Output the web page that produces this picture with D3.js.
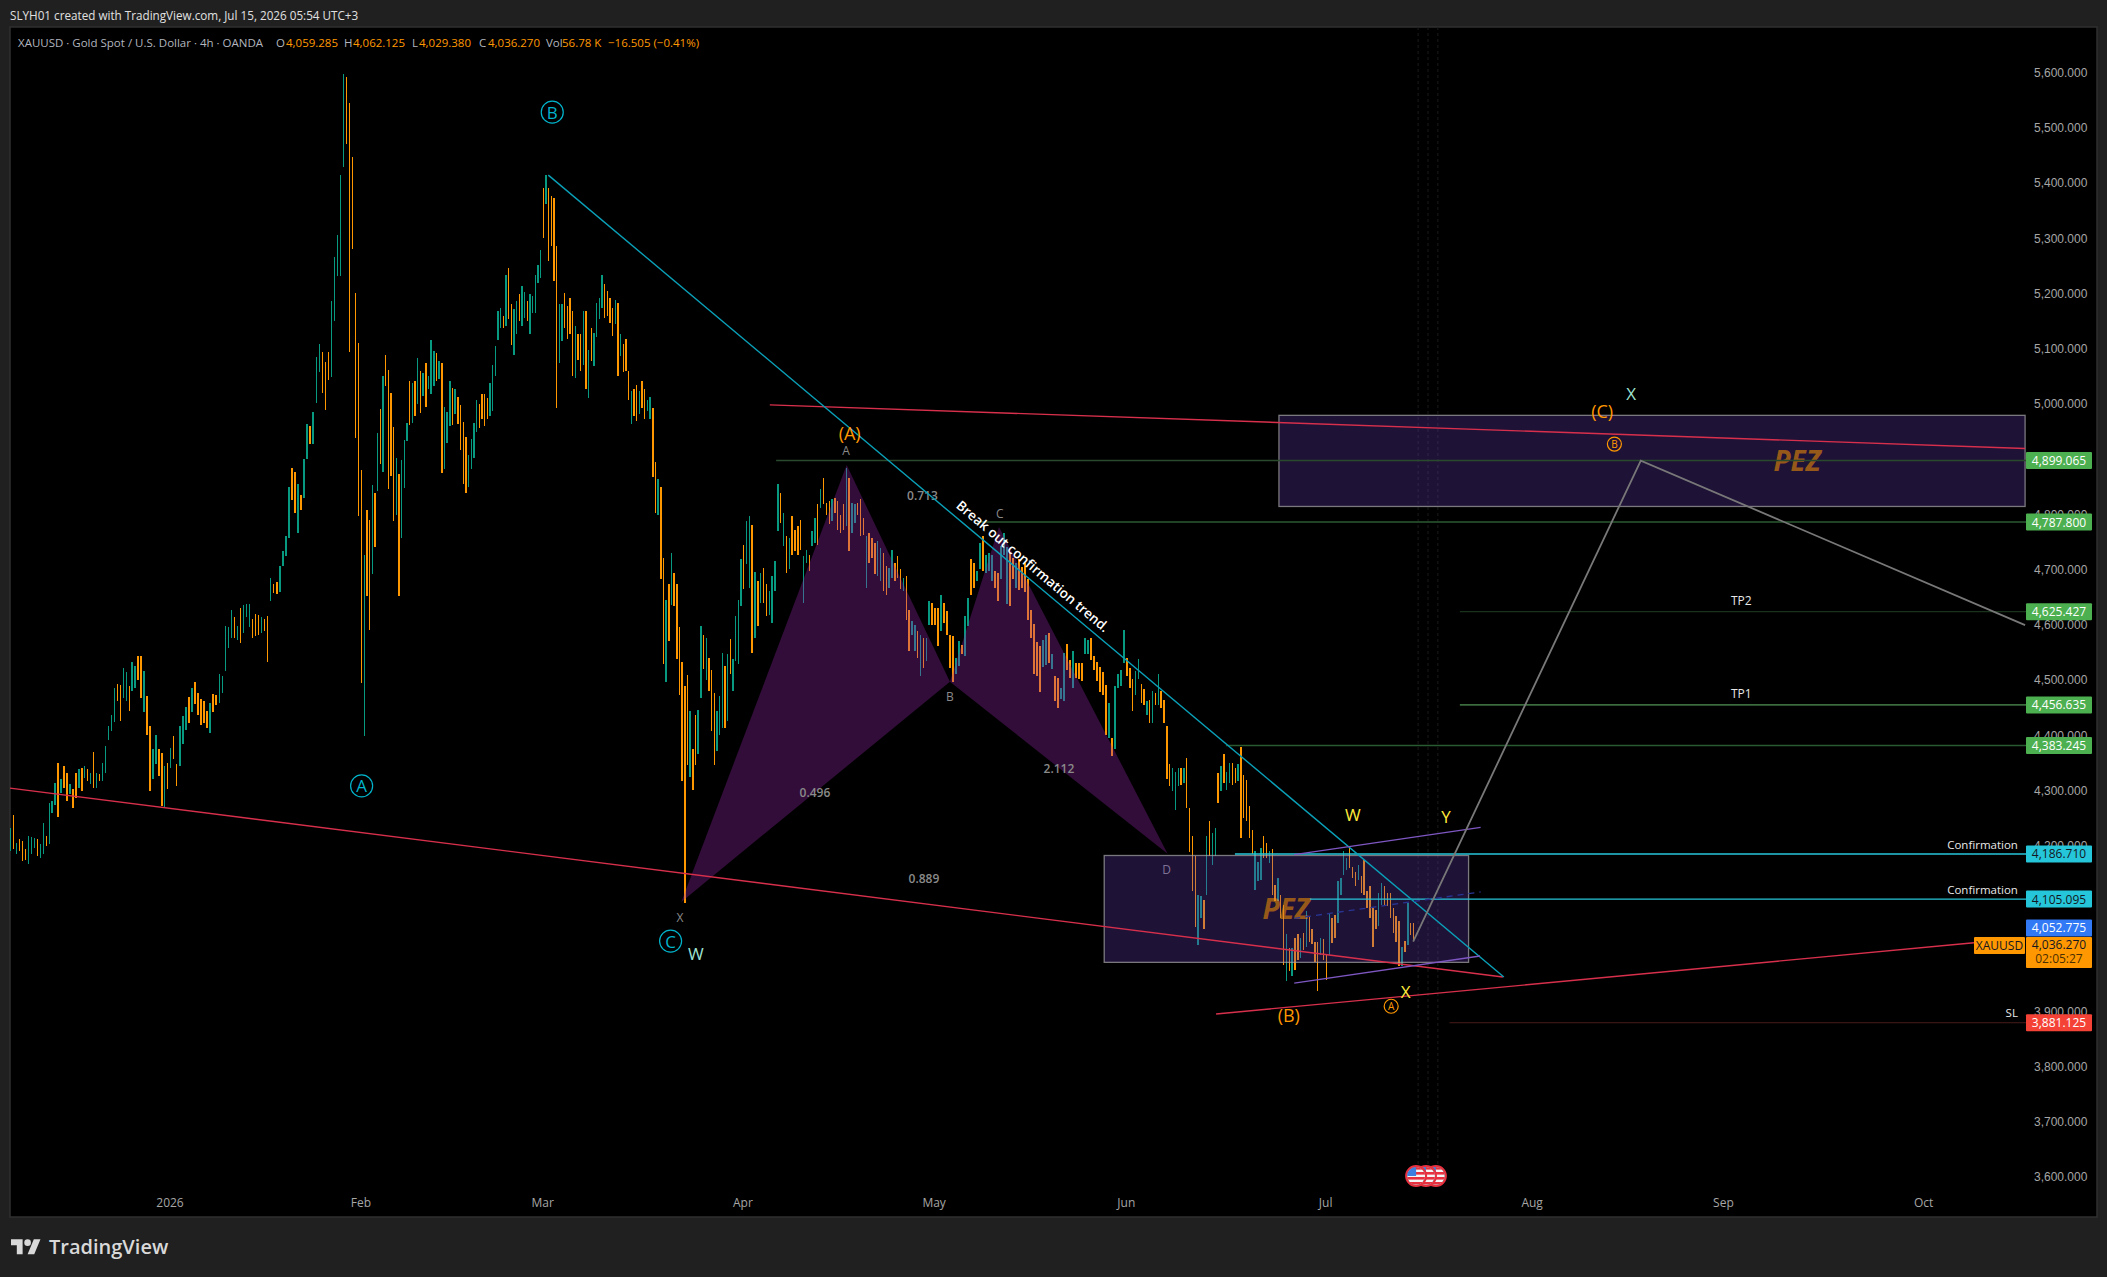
<!DOCTYPE html>
<html>
<head>
<meta charset="utf-8">
<script src="https://cdn.jsdelivr.net/npm/d3@7"></script>
<style>
  html, body { margin: 0; padding: 0; background: #202020; }
  svg { display: block; font-family: "Open Sans", "Noto Sans", sans-serif; }
</style>
</head>
<body>
<svg id="chart" width="2107" height="1277"></svg>
<script>
//
// DATA
//
// bars per month, each row is [high, low, up(1) or down(0)]
const barsDec = [[4234,4192,1],[4257,4195,0],[4207,4186,1],[4213,4192,0],[4210,4174,0],[4195,4175,0],[4219,4168,1],[4217,4186,1],[4215,4198,1],[4213,4183,0],[4204,4180,1],[4243,4186,1],[4219,4201,0],[4279,4204,1],[4282,4261,1],[4316,4276,1],[4351,4253,0],[4322,4298,1],[4346,4307,0],[4333,4282,0],[4314,4295,1],[4304,4270,0],[4333,4288,0],[4340,4307,1],[4342,4301,0],[4346,4325,1],[4340,4319,0],[4334,4314,1],[4371,4307,0],[4334,4307,1],[4332,4318,0],[4352,4318,1],[4382,4334,1],[4418,4394,1],[4439,4409,1],[4488,4426,1],[4494,4464,0],[4493,4427,0],[4523,4470,1],[4516,4464,1],[4491,4446,0],[4535,4482,1],[4527,4488,1],[4546,4501,0],[4545,4470,0],[4518,4443,1],[4473,4403,0],[4418,4301,0],[4376,4322,1],[4402,4349,1],[4376,4328,0],[4370,4273,0],[4346,4272,1],[4352,4304,0]]
const barsJan = [[4379,4343,1],[4400,4358,0],[4349,4310,0],[4418,4346,1],[4436,4385,1],[4452,4412,1],[4471,4424,0],[4488,4443,1],[4499,4458,0],[4479,4439,0],[4467,4421,0],[4464,4424,0],[4446,4414,0],[4461,4406,1],[4477,4443,0],[4475,4456,0],[4512,4461,1],[4509,4479,1],[4600,4518,1],[4597,4560,1],[4628,4578,1],[4616,4578,0],[4600,4575,1],[4632,4568,0],[4638,4587,1],[4639,4616,1],[4640,4597,1],[4612,4578,0],[4622,4581,0],[4619,4584,0],[4616,4587,1],[4612,4590,0],[4618,4535,0],[4686,4645,1],[4675,4660,0],[4680,4657,0],[4708,4661,1],[4735,4708,1],[4763,4726,1],[4851,4759,1],[4885,4828,0],[4879,4805,0],[4856,4768,1],[4837,4809,0],[4902,4832,1],[4966,4902,1],[4962,4929,0],[4987,4929,1],[5087,5003,1],[5110,5059,1],[5096,5022,0],[5077,4990,0],[5096,5045,0],[5188,5050,1],[5267,5151,1],[5308,5234,1],[5417,5233,1],[5600,5431,1],[5594,5472,0],[5547,5096,0],[5449,5282,0],[5203,4940,0],[5112,4798,0]]
const barsFeb = [[4882,4496,0],[4729,4400,1],[4809,4653,0],[4792,4593,0],[4855,4693,1],[4841,4742,0],[4949,4844,1],[4993,4892,0],[5052,4879,1],[5090,5034,0],[5063,4847,0],[5022,4871,0],[4960,4789,0],[4903,4801,1],[4874,4653,0],[4901,4759,1],[4936,4850,1],[4967,4934,1],[5044,4964,0],[5040,4967,1],[5043,4980,0],[5085,5001,1],[5061,4986,0],[5058,5016,1],[5075,4996,0],[5052,5028,1],[5117,5019,1],[5097,5034,1],[5094,5043,0],[5079,5046,1],[5076,4877,0],[4996,4883,1],[4987,4931,1],[5044,4961,1],[5030,4963,0],[5028,4983,1],[5014,4965,0],[5000,4919,0],[4969,4857,0],[4941,4841,0],[4909,4851,1],[4939,4883,1],[4967,4904,1],[5009,4951,1],[5002,4958,0],[5019,4974,0],[5019,4961,0],[5012,4974,0],[5040,4980,1],[5073,4989,1],[5106,5052,1],[5170,5117,1],[5175,5140,1],[5161,5140,0],[5235,5143,1],[5247,5155,0],[5182,5109,0],[5173,5091,1],[5188,5128,1],[5200,5152,0],[5215,5143,1],[5205,5158,1],[5188,5152,0],[5200,5128,1],[5197,5167,1],[5236,5167,1],[5254,5221,1],[5280,5230,1]]
const barsMar = [[5393,5303,0],[5417,5363,1],[5393,5261,0],[5378,5288,0],[5375,5224,0],[5288,4995,0],[5182,5076,1],[5183,5116,1],[5203,5140,0],[5179,5119,0],[5193,5128,0],[5170,5052,0],[5143,5049,1],[5128,5082,0],[5128,5061,0],[5170,5073,1],[5170,5028,0],[5100,5013,1],[5140,5079,0],[5131,5070,1],[5185,5122,1],[5194,5155,1],[5236,5176,1],[5219,5158,0],[5207,5161,0],[5194,5149,0],[5175,5125,0],[5189,5146,1],[5185,5052,0],[5128,5088,1],[5110,5060,0],[5119,5061,0],[5061,5008,0],[5025,4966,1],[5028,4980,0],[5036,4971,0],[5025,4983,1],[5043,4995,0],[5028,4974,0],[5008,4989,1],[5014,4974,1],[4995,4869,0],[4896,4804,0],[4865,4801,1],[4851,4684,0],[4723,4530,0],[4646,4499,1],[4675,4572,0],[4732,4638,1],[4696,4635,0],[4675,4539,0],[4597,4475,0],[4534,4318,0],[4490,4098,0],[4510,4348,0],[4445,4327,1],[4376,4303,0],[4439,4348,0],[4448,4367,1],[4599,4469,1],[4583,4521,0],[4578,4502,1],[4542,4481,0],[4519,4409,0],[4478,4348,0],[4445,4373,1],[4472,4403,1],[4551,4415,1],[4527,4415,0],[4548,4427,1],[4576,4512,0],[4539,4481,1],[4617,4536,1],[4647,4530,1],[4720,4635,1]]
const barsApr = [[4746,4666,0],[4789,4711,1],[4798,4669,1],[4783,4551,0],[4697,4578,1],[4681,4599,0],[4696,4641,1],[4704,4641,0],[4675,4617,0],[4663,4620,1],[4690,4605,1],[4717,4663,1],[4856,4771,1],[4841,4786,0],[4804,4744,1],[4762,4696,0],[4759,4702,1],[4798,4729,0],[4774,4735,0],[4780,4729,0],[4792,4738,0],[4726,4641,1],[4738,4714,1],[4729,4699,0],[4771,4744,1],[4795,4750,1],[4820,4747,0],[4847,4814,1],[4868,4820,0],[4823,4801,0],[4826,4785,0],[4829,4789,1],[4832,4804,0],[4826,4774,0],[4801,4768,0],[4820,4774,0],[4885,4780,1],[4868,4735,0],[4823,4768,1],[4820,4786,1],[4823,4801,0],[4829,4762,0],[4795,4765,0],[4762,4669,1],[4768,4714,0],[4759,4723,0],[4750,4693,0],[4753,4690,1],[4741,4681,1],[4732,4663,0],[4708,4656,0],[4705,4669,1],[4738,4687,1],[4714,4681,0],[4726,4687,0],[4702,4666,0],[4687,4663,1],[4690,4611,0],[4629,4554,0],[4608,4584,1],[4602,4554,1],[4590,4542,0],[4584,4509,1],[4578,4524,0],[4578,4536,1],[4644,4602,1],[4641,4602,0]]
const barsMay = [[4632,4602,0],[4632,4563,0],[4656,4590,1],[4641,4605,0],[4626,4584,0],[4584,4524,0],[4581,4499,0],[4542,4512,1],[4572,4527,1],[4566,4548,0],[4617,4545,1],[4650,4599,1],[4720,4656,0],[4714,4669,0],[4699,4681,1],[4750,4702,1],[4762,4699,0],[4729,4696,1],[4732,4699,1],[4729,4681,1],[4699,4669,0],[4696,4644,0],[4744,4684,1],[4768,4729,1],[4742,4639,1],[4732,4635,0],[4723,4684,0],[4713,4668,1],[4720,4665,0],[4707,4668,0],[4713,4661,0],[4684,4610,0],[4629,4577,0],[4603,4512,0],[4571,4509,0],[4564,4480,0],[4574,4525,1],[4584,4529,1],[4587,4532,0],[4548,4522,1],[4509,4464,0],[4506,4451,0],[4487,4467,1],[4550,4464,1],[4567,4519,0],[4538,4506,0],[4554,4487,1],[4532,4506,0],[4532,4503,0],[4532,4500,0],[4577,4548,1],[4574,4548,1],[4577,4538,0],[4545,4519,0],[4535,4500,0],[4525,4480,0],[4516,4474,0],[4493,4402,0],[4461,4396,1],[4396,4364,0],[4490,4377,1],[4512,4487,1],[4519,4490,1],[4593,4532,1]]
const barsJun = [[4542,4509,0],[4524,4488,0],[4503,4445,0],[4518,4475,1],[4539,4503,1],[4494,4460,0],[4485,4457,0],[4463,4439,1],[4466,4424,0],[4482,4424,1],[4478,4457,0],[4512,4457,1],[4482,4451,0],[4466,4424,0],[4418,4322,0],[4349,4309,0],[4343,4300,1],[4336,4267,1],[4343,4309,1],[4343,4312,0],[4343,4315,1],[4361,4270,0],[4270,4190,0],[4219,4120,0],[4183,4055,0],[4113,4022,1],[4110,4071,1],[4104,4050,0],[4219,4113,1],[4246,4183,0],[4225,4167,1],[4234,4183,1],[4334,4279,0],[4346,4300,1],[4367,4315,0],[4336,4303,1],[4352,4315,1],[4352,4312,0],[4343,4315,0],[4349,4318,1],[4380,4216,0],[4330,4252,0],[4321,4246,0],[4273,4216,0],[4231,4186,0],[4192,4122,1],[4173,4137,1],[4197,4140,1],[4219,4180,0],[4207,4180,0],[4192,4170,1],[4195,4113,0],[4131,4101,0],[4143,4101,1],[4113,4071,0],[4095,3986,0],[4041,3956,1],[4016,3974,0],[4016,3965,1],[4035,3977,0],[4041,3995,0],[4035,3998,1],[4044,4013,0],[4083,4019,1],[4074,4028,0],[4050,4023,0],[4028,3992,0],[4028,3938,0],[4035,4004,1],[4032,3995,0]]
const barsJul = [[4004,3959,0],[4080,4004,1],[4071,4026,0],[4077,4035,0],[4137,4062,1],[4143,4113,1],[4192,4149,1],[4179,4158,1],[4198,4161,0],[4164,4143,0],[4155,4128,0],[4167,4140,1],[4146,4116,0],[4176,4113,0],[4119,4089,0],[4128,4071,0],[4089,4019,0],[4086,4050,0],[4116,4056,1],[4134,4095,1],[4128,4092,0],[4116,4092,0],[4116,4071,0],[4089,4044,0],[4074,4028,0],[4065,3983,0],[4019,3983,1],[4030,4010,0],[4098,4022,1],[4062,4040,0],[4062.125,4029.38,0]]

// x values are trading sessions counted from Jan 1
const barMonths = [barsDec, barsJan, barsFeb, barsMar, barsApr, barsMay, barsJun, barsJul]
const monthEdges = [-17.82, 0, 21.27, 41.5, 63.8, 85.1, 106.5, 128.7, 138.75]

const timeTickLabels = ['2026', 'Feb', 'Mar', 'Apr', 'May', 'Jun', 'Jul', 'Aug', 'Sep', 'Oct']
const timeTickSessions = [0, 21.27, 41.5, 63.8, 85.1, 106.5, 128.7, 151.7, 173, 195.3]
const priceTicks = [3600, 3700, 3800, 3900, 4000, 4100, 4200, 4300, 4400, 4500, 4600, 4700, 4800, 4900, 5000, 5100, 5200, 5300, 5400, 5500, 5600]

// horizontal levels
const greenLevels = [4899.065, 4787.8, 4625.427, 4456.635, 4383.245]
const greenLevelStarts = [67.5, 89.87, 143.65, 143.65, 117.6]
const cyanLevels = [4186.71, 4105.095]
const cyanLevelStarts = [118.6, 126.95]
const stopLevel = 3881.125
const stopLevelStart = 142.5
const paneEnd = 206.7

// trend lines as [session, price] pairs
const fallingTrend = [[42.13, 5416], [148.55, 3964]]
const lowerRedTrend = [[-17.82, 4306], [148.44, 3964]]
const upperRedTrend = [[66.8, 5000], [206.6, 4921]]
const risingRedTrend = [[116.5, 3897], [200.9, 4026]]
const channelTop = [[125.2, 4185.4], [145.96, 4235]]
const channelBottom = [[125.2, 3953], [145.9, 4002]]
const channelMiddle = [[125.2, 4070], [145.96, 4118]]
const projection = [[138.45, 4028], [163.8, 4899.065], [206.6, 4601]]

// harmonic pattern points
const patternLabels = ['X', 'A', 'B', 'C', 'D']
const patternPoints = [[56.94, 4100], [75.36, 4891], [86.86, 4498.5], [92.32, 4779], [111.1, 4187]]
const patternTextSpots = [[56.8, 4072], [75.3, 4917], [86.86, 4471], [92.4, 4804], [111, 4159.5]]
const ratioLabels = ['0.713', '0.496', '2.112', '0.889']
const ratioSpots = [[83.8, 4835], [71.83, 4298], [99, 4341], [83.96, 4142]]

// price zones [session from, session to, price top, price bottom]
const lowerZone = [104.04, 144.62, 4184, 3990.5]
const upperZone = [123.5, 206.6, 4981, 4816]
const zoneTextSpots = [[124.3, 4089], [181.2, 4900]]

// wave labels
const cyanCircled = [['B', 42.57, 5530], ['A', 21.34, 4310], ['C', 55.75, 4029]]
const orangeWaves = [['(A)', 75.69, 4949], ['(B)', 124.6, 3895], ['(C)', 159.5, 4989]]
const orangeCircled = [['A', 136, 3911], ['B', 160.86, 4929]]
const yellowWaves = [['X', 137.6, 3938], ['W', 131.74, 4259], ['Y', 142.1, 4255]]
const aquaWaves = [['W', 58.57, 4007], ['X', 162.74, 5021]]
const levelNotes = [['TP2', 175, 4645], ['TP1', 175, 4478]]
const confirmNotes = [['Confirmation', 205.8, 4203], ['Confirmation', 205.8, 4122], ['SL', 205.8, 3900]]
const eventSessions = [141.2, 140.1, 139]

const legendValues = ['4,059.285', '4,062.125', '4,029.380', '4,036.270', '56.78 K', '−16.505 (−0.41%)']
const askPrice = 4052.775
const lastPrice = 4036.27

//
// SCALES
//
const pane = { left: 10, right: 2097, top: 27, bottom: 1217, axis: 2026 }
const x = d3.scaleLinear().domain([-17.82, paneEnd]).range([pane.left, pane.axis])
const y = d3.scaleLinear().domain([3600, 5600]).range([1178, 73.5])
const lineGen = d3.line().x((d) => x(d[0])).y((d) => y(d[1]))

const svg = d3.select('#chart')
const upColor = '#089981'
const downColor = '#ff9800'

// chart pane
svg.append('rect')
    .attr('x', pane.left).attr('y', pane.top)
    .attr('width', pane.right - pane.left).attr('height', pane.bottom - pane.top)
    .attr('fill', '#000').attr('stroke', '#2f2f2f').attr('stroke-width', 1.5)

svg.append('clipPath').attr('id', 'pane-clip').append('rect')
    .attr('x', pane.left).attr('y', pane.top)
    .attr('width', pane.axis - pane.left + 2).attr('height', pane.bottom - pane.top)

const plot = svg.append('g').attr('clip-path', 'url(#pane-clip)')

/************
 *          *
 *   BARS   *
 *          *
 ************/
const drawBars = () => {
    // faint event lines sit behind everything
    plot.selectAll('line.event').data(eventSessions).join('line')
        .attr('class', 'event')
        .attr('x1', (d) => x(d)).attr('x2', (d) => x(d))
        .attr('y1', pane.top).attr('y2', 1165)
        .attr('stroke', '#1b1b1b').attr('stroke-dasharray', '3 3')

    barMonths.forEach((rows, m) => {
        const slot = d3.scaleLinear().domain([0, rows.length]).range([monthEdges[m], monthEdges[m + 1]])
        plot.append('g').attr('shape-rendering', 'crispEdges')
            .selectAll('rect').data(rows).join('rect')
            .attr('x', (d, i) => x(slot(i)))
            .attr('width', 1.4)
            .attr('y', (d) => y(d[0]))
            .attr('height', (d) => y(d[1]) - y(d[0]))
            .attr('fill', (d) => d[2] ? upColor : downColor)
    })
}

/*******************
 *                 *
 *   ANNOTATIONS   *
 *                 *
 *******************/
const drawPattern = () => {
    const [X, A, B, C, D] = patternPoints
    plot.selectAll('path.wing').data([[X, A, B], [B, C, D]]).join('path')
        .attr('class', 'wing')
        .attr('d', (d) => lineGen(d) + 'Z')
        .attr('fill', '#9c27b0').attr('fill-opacity', 0.32)
    plot.selectAll('text.pattern').data(patternLabels).join('text')
        .attr('class', 'pattern')
        .attr('x', (d, i) => x(patternTextSpots[i][0]))
        .attr('y', (d, i) => y(patternTextSpots[i][1]))
        .attr('text-anchor', 'middle').attr('dominant-baseline', 'central')
        .attr('font-size', 12).attr('fill', '#8a8a8a')
        .text((d) => d)
    plot.selectAll('text.ratio').data(ratioLabels).join('text')
        .attr('class', 'ratio')
        .attr('x', (d, i) => x(ratioSpots[i][0]))
        .attr('y', (d, i) => y(ratioSpots[i][1]))
        .attr('text-anchor', 'middle').attr('dominant-baseline', 'central')
        .attr('font-size', 12).attr('font-weight', 600).attr('fill', '#8a8a8a')
        .text((d) => d)
}

const drawZones = () => {
    plot.selectAll('rect.zone').data([lowerZone, upperZone]).join('rect')
        .attr('class', 'zone')
        .attr('x', (d) => x(d[0])).attr('width', (d) => x(d[1]) - x(d[0]))
        .attr('y', (d) => y(d[2])).attr('height', (d) => y(d[3]) - y(d[2]))
        .attr('fill', '#673ab7').attr('fill-opacity', 0.3)
        .attr('stroke', '#a8a8a8').attr('stroke-opacity', 0.7).attr('stroke-width', 1.3)
    plot.selectAll('text.pez').data(zoneTextSpots).join('text')
        .attr('class', 'pez')
        .attr('x', (d) => x(d[0])).attr('y', (d) => y(d[1]))
        .attr('text-anchor', 'middle').attr('dominant-baseline', 'central')
        .attr('font-size', 28).attr('font-weight', 700).attr('font-style', 'italic')
        .attr('fill', '#ff9800').attr('fill-opacity', 0.55)
        .text('PEZ')
}

const drawLevels = () => {
    const colors = ['#2a4a2d', '#2a5a30', '#1f3f24', '#66bb6a', '#2a5a30']
    const hline = (price, start, color, width) => plot.append('line')
        .attr('x1', x(start)).attr('x2', x(paneEnd))
        .attr('y1', y(price)).attr('y2', y(price))
        .attr('stroke', color).attr('stroke-width', width)
    greenLevels.forEach((p, i) => hline(p, greenLevelStarts[i], colors[i], i === 2 || i === 3 ? 1 : 1.5))
    cyanLevels.forEach((p, i) => hline(p, cyanLevelStarts[i], '#26c6da', 1.3))
    hline(stopLevel, stopLevelStart, '#4a1c1c', 1)
}

const drawTrends = () => {
    const trend = (pts, color, width, dash) => plot.append('path')
        .attr('d', lineGen(pts)).attr('fill', 'none')
        .attr('stroke', color).attr('stroke-width', width)
        .attr('stroke-dasharray', dash || null)
    trend(lowerRedTrend, '#d8304c', 1.4)
    trend(upperRedTrend, '#d8304c', 1.4)
    trend(risingRedTrend, '#d8304c', 1.4)
    trend(fallingTrend, '#0aa0b8', 1.4)
    trend(channelTop, '#7e57c2', 1.3)
    trend(channelBottom, '#7e57c2', 1.3)
    trend(channelMiddle, '#283593', 1.3, '6 5')
    trend(projection, '#787878', 1.8)
}

const drawWaves = () => {
    const waveText = (rows, color, size) => plot.append('g').selectAll('text').data(rows).join('text')
        .attr('x', (d) => x(d[1])).attr('y', (d) => y(d[2]))
        .attr('text-anchor', 'middle').attr('dominant-baseline', 'central')
        .attr('font-size', size).attr('font-weight', 500).attr('fill', color)
        .text((d) => d[0])
    const circled = (rows, color, r, size) => {
        plot.append('g').selectAll('circle').data(rows).join('circle')
            .attr('cx', (d) => x(d[1])).attr('cy', (d) => y(d[2])).attr('r', r)
            .attr('fill', 'none').attr('stroke', color).attr('stroke-width', 1.2)
        waveText(rows, color, size)
    }
    circled(cyanCircled, '#00b4cc', 11, 17)
    circled(orangeCircled, '#ff9800', 7, 10)
    waveText(orangeWaves, '#ff9800', 18)
    waveText(yellowWaves, '#ffeb3b', 17)
    waveText(aquaWaves, '#9fe3d3', 17)

    // note above the falling trend, rotated along it
    plot.append('text')
        .attr('transform', `translate(${x(96.1)},${y(4708)}) rotate(40.2)`)
        .attr('text-anchor', 'middle').attr('dominant-baseline', 'central')
        .attr('font-size', 13.5).attr('font-weight', 600).attr('fill', '#fff')
        .text('Break out confirmation trend.')

    plot.append('g').selectAll('text').data(levelNotes).join('text')
        .attr('x', (d) => x(d[1])).attr('y', (d) => y(d[2]))
        .attr('text-anchor', 'middle').attr('dominant-baseline', 'central')
        .attr('font-size', 12).attr('font-weight', 500).attr('fill', '#e8e8e8')
        .text((d) => d[0])
    plot.append('g').selectAll('text').data(confirmNotes).join('text')
        .attr('x', (d) => x(d[1])).attr('y', (d) => y(d[2]))
        .attr('text-anchor', 'end').attr('dominant-baseline', 'central')
        .attr('font-size', 11.5).attr('font-weight', 500).attr('fill', '#e8e8e8')
        .text((d) => d[0])
}

// small US flags on the time axis
const drawEvents = () => {
    eventSessions.forEach((s, i) => {
        const cx = x(s) - 2
        const cy = 1176
        const id = `flag-${i}`
        svg.append('clipPath').attr('id', id).append('circle')
            .attr('cx', cx).attr('cy', cy).attr('r', 9)
        const g = svg.append('g')
        g.append('circle').attr('cx', cx).attr('cy', cy).attr('r', 10)
            .attr('fill', '#111').attr('stroke', '#e8303f').attr('stroke-width', 2)
        const f = g.append('g').attr('clip-path', `url(#${id})`)
        f.append('rect').attr('x', cx - 9).attr('y', cy - 9).attr('width', 18).attr('height', 18).attr('fill', '#f5f5f5')
        d3.range(4).forEach((k) => f.append('rect')
            .attr('x', cx - 9).attr('y', cy - 9 + k * 5).attr('width', 18).attr('height', 2.6).attr('fill', '#e8303f'))
        f.append('rect').attr('x', cx - 9).attr('y', cy - 9).attr('width', 9).attr('height', 9).attr('fill', '#3d7fe0')
    })
}

/************
 *          *
 *   AXES   *
 *          *
 ************/
const drawAxes = () => {
    const axisRight = svg.append('g')
        .attr('transform', `translate(2034,-1)`)
        .call(d3.axisRight(y).tickValues(priceTicks).tickSize(0).tickPadding(0).tickFormat(d3.format(',.3f')))
    axisRight.select('.domain').remove()
    axisRight.selectAll('text').attr('font-size', 12).attr('font-family', 'inherit').attr('fill', '#a6a6a6')

    svg.append('g').selectAll('text').data(timeTickLabels).join('text')
        .attr('x', (d, i) => x(timeTickSessions[i]))
        .attr('y', 1202)
        .attr('text-anchor', 'middle').attr('dominant-baseline', 'central')
        .attr('font-size', 12).attr('fill', '#a6a6a6')
        .text((d) => d)
}

// boxed prices over the axis
const priceBox = (value, fill, textColor) => {
    const cy = y(value)
    svg.append('rect').attr('x', 2026).attr('y', cy - 8.5).attr('width', 66).attr('height', 17).attr('rx', 1).attr('fill', fill)
    svg.append('text').attr('x', 2059).attr('y', cy)
        .attr('text-anchor', 'middle').attr('dominant-baseline', 'central')
        .attr('font-size', 12).attr('fill', textColor)
        .text(d3.format(',.3f')(value))
}

const drawPriceBoxes = () => {
    greenLevels.forEach((p) => priceBox(p, '#4caf50', '#fff'))
    cyanLevels.forEach((p) => priceBox(p, '#26c6da', '#131722'))
    priceBox(askPrice, '#3179f5', '#fff')
    priceBox(stopLevel, '#f44336', '#fff')

    // last price box is pushed under the ask box and carries the countdown
    const top = y(askPrice) + 9
    svg.append('rect').attr('x', 2026).attr('y', top).attr('width', 66).attr('height', 31).attr('rx', 1).attr('fill', downColor)
    svg.append('text').attr('x', 2059).attr('y', top + 8)
        .attr('text-anchor', 'middle').attr('dominant-baseline', 'central')
        .attr('font-size', 12).attr('fill', '#131722')
        .text(d3.format(',.3f')(lastPrice))
    svg.append('text').attr('x', 2059).attr('y', top + 22)
        .attr('text-anchor', 'middle').attr('dominant-baseline', 'central')
        .attr('font-size', 12).attr('fill', '#4a3000')
        .text('02:05:27')
    svg.append('rect').attr('x', 1974).attr('y', top).attr('width', 51).attr('height', 17).attr('rx', 1).attr('fill', downColor)
    svg.append('text').attr('x', 1999.5).attr('y', top + 8.5)
        .attr('text-anchor', 'middle').attr('dominant-baseline', 'central')
        .attr('font-size', 12).attr('fill', '#131722')
        .text('XAUUSD')
}

/*************
 *           *
 *   TITLE   *
 *           *
 *************/
const drawHeader = () => {
    svg.append('text').attr('x', 10).attr('y', 15)
        .attr('dominant-baseline', 'central').attr('font-size', 11.7).attr('fill', '#e0e0e0')
        .text('SLYH01 created with TradingView.com, Jul 15, 2026 05:54 UTC+3')

    const legend = svg.append('text').attr('y', 42).attr('dominant-baseline', 'central').attr('font-size', 11.5)
    const part = (px, text, color) => legend.append('tspan').attr('x', px).attr('fill', color).text(text)
    part(18, 'XAUUSD · Gold Spot / U.S. Dollar · 4h · OANDA', '#b2b5be')
    part(276, 'O', '#b2b5be'); part(286, legendValues[0], downColor)
    part(344, 'H', '#b2b5be'); part(353, legendValues[1], downColor)
    part(412, 'L', '#b2b5be'); part(419, legendValues[2], downColor)
    part(479, 'C', '#b2b5be'); part(488, legendValues[3], downColor)
    part(546, 'Vol', '#b2b5be'); part(562, legendValues[4], downColor)
    part(608, legendValues[5], downColor)

    // logo
    const logo = svg.append('g').attr('transform', 'translate(11,1236) scale(0.83)').attr('fill', '#d9d9d9')
    logo.append('path').attr('d', 'M14 22H7V11H0V4h14v18zM28 22h-8l7.5-18h8L28 22z')
    logo.append('circle').attr('cx', 20).attr('cy', 8).attr('r', 4)
    svg.append('text').attr('x', 49).attr('y', 1246)
        .attr('dominant-baseline', 'central').attr('font-size', 20).attr('font-weight', 600).attr('fill', '#d9d9d9')
        .text('TradingView')
}

drawAxes()
drawBars()
drawPattern()
drawZones()
drawLevels()
drawTrends()
drawWaves()
drawEvents()
drawPriceBoxes()
drawHeader()
</script>
</body>
</html>
